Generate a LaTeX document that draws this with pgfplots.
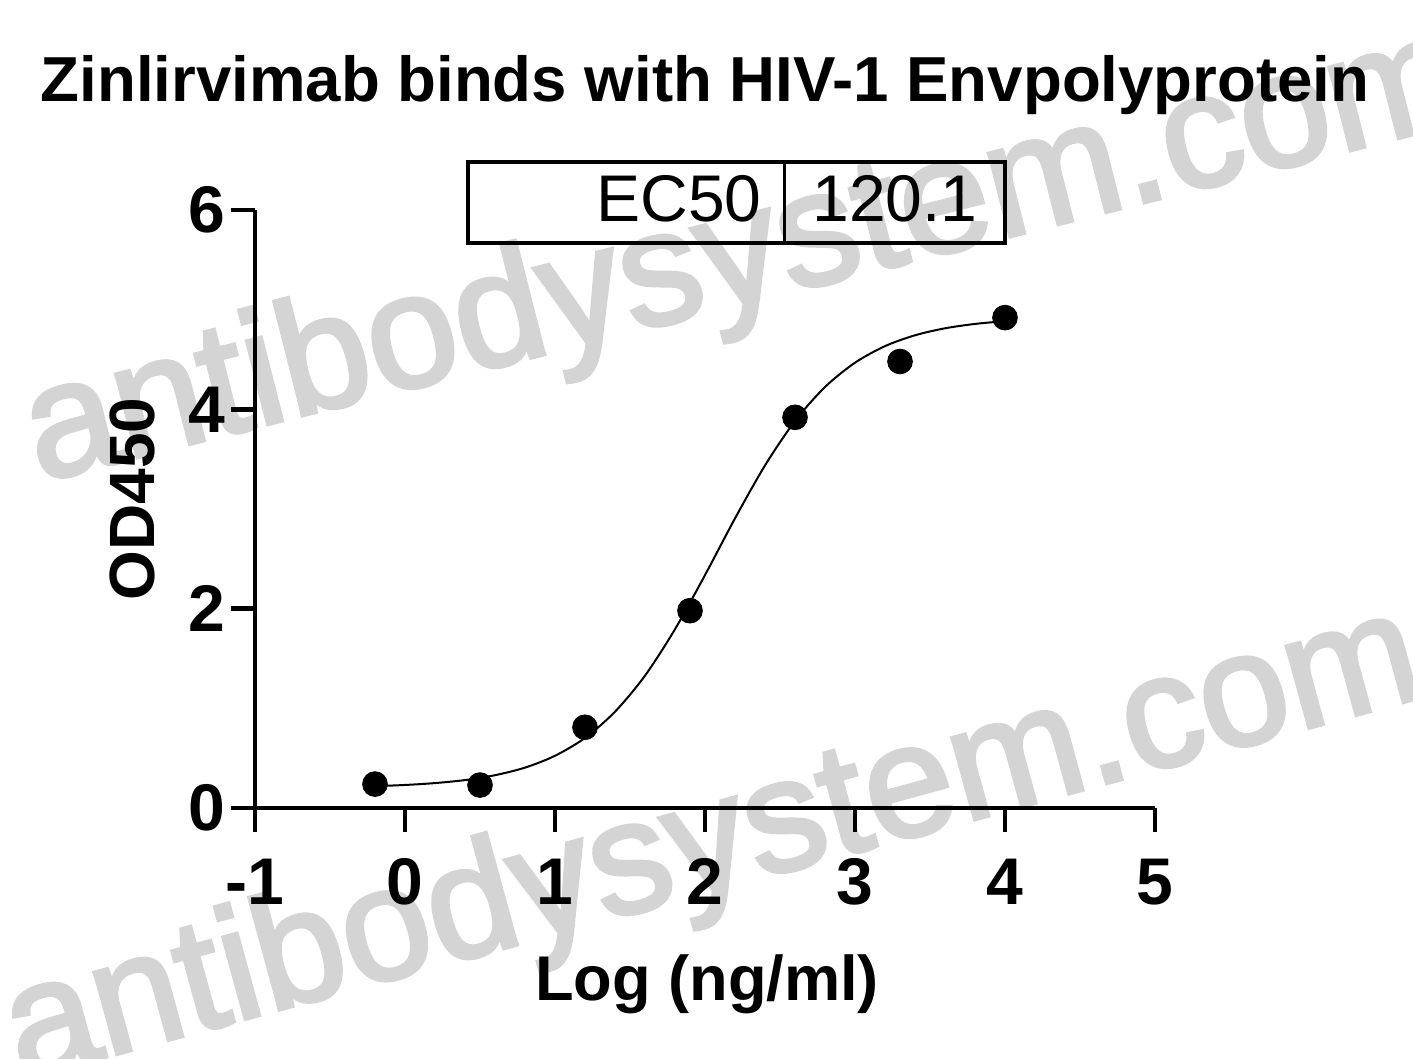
\documentclass[border=0pt]{standalone}
\usepackage{fontspec}
\setmainfont{Liberation Sans}
\newfontfamily\wmfont{Liberation Sans}[FakeBold=2.5]
\usepackage{pgfplots}
\pgfplotsset{compat=1.18}
\definecolor{wm}{gray}{0.83}
\begin{document}
\begin{tikzpicture}
% watermarks (behind the chart)
\node[anchor=base, rotate=14.2, text=wm, font=\wmfont\fontsize{81}{88}\selectfont, inner sep=0pt] at (250pt,253.5pt) {antibodysystem.com};
\node[anchor=base, rotate=15.3, text=wm, font=\wmfont\fontsize{80}{88}\selectfont, inner sep=0pt] at (234.5pt,-40pt) {antibodysystem.com};
\begin{axis}[
  scale only axis, width=450pt, height=299pt,
  xmin=-1, xmax=5, ymin=0, ymax=6,
  axis x line=bottom, axis y line=left,
  axis line style={-, line width=2.2pt, black},
  xtick={-1,0,1,2,3,4,5}, ytick={0,2,4,6},
  tick align=outside, major tick length=12pt,
  tick style={line width=2.2pt, black},
  minor tick num=0,
  /pgf/number format/assume math mode=true,
  ticklabel style={font=\fontsize{33}{36}\selectfont\bfseries, inner sep=0pt},
  xticklabel style={anchor=base, yshift=-36.5pt},
  yticklabel style={xshift=-2.5pt},
  clip=false,
]
\addplot[black, line width=1pt, smooth, no marks] coordinates {
(-0.2,0.219) (0.0,0.231) (0.2,0.250) (0.4,0.280) (0.6,0.329) (0.8,0.405)
(1.0,0.524) (1.2,0.703) (1.4,0.966) (1.6,1.328) (1.8,1.794) (2.0,2.337)
(2.2,2.906) (2.4,3.437) (2.6,3.883) (2.8,4.224) (3.0,4.468) (3.2,4.634)
(3.4,4.743) (3.6,4.813) (3.8,4.857) (4.0,4.885)
};
\addplot[only marks, mark=*, mark size=6.2pt, black] coordinates {
(-0.2,0.24) (0.5,0.23) (1.2,0.81) (1.9,1.98) (2.6,3.92) (3.3,4.48) (4.0,4.92)
};
\draw[line width=2.2pt] (axis cs:0.42,5.67) rectangle (axis cs:4.0,6.48);
\draw[line width=1.5pt] (axis cs:2.533,5.67) -- (axis cs:2.533,6.48);
\node[anchor=base east, inner sep=0pt, font=\fontsize{33}{36}\selectfont] at (axis cs:2.38,5.88) {EC50};
\node[anchor=base east, inner sep=0pt, font=\fontsize{33}{36}\selectfont] at (axis cs:3.82,5.88) {120.1};
\end{axis}
\node[anchor=base, inner sep=0pt, font=\fontsize{31.8}{34}\selectfont\bfseries] at (225pt,353pt) {Zinlirvimab binds with HIV-1 Envpolyprotein};
\node[anchor=base, inner sep=0pt, font=\fontsize{31.6}{34}\selectfont\bfseries] at (226pt,-96pt) {Log (ng/ml)};
\node[anchor=base, rotate=90, inner sep=0pt, font=\fontsize{32}{34}\selectfont\bfseries] at (-50pt,154.5pt) {OD450};
\pgfresetboundingbox
\path[use as bounding box] (-127.5pt,-125.5pt) rectangle (579pt,404pt);
\end{tikzpicture}
\end{document}
